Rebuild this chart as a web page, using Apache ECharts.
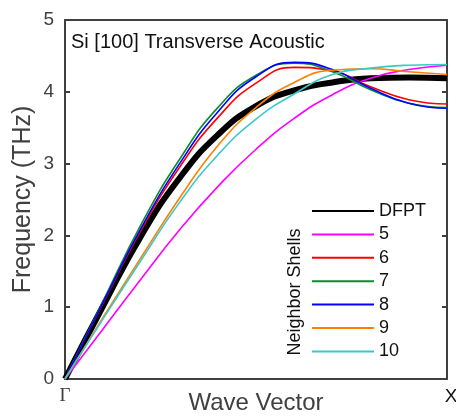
<!DOCTYPE html>
<html>
<head>
<meta charset="utf-8">
<script src="https://cdn.jsdelivr.net/npm/echarts@6/dist/echarts.min.js"></script>
<style>html,body{margin:0;padding:0;background:#fff}#c{width:456px;height:416px}</style>
</head>
<body>
<div id="c"></div>
<script>
const waveVector = [0, 0.1, 0.2, 0.3, 0.4, 0.5, 0.6, 0.7, 0.8, 0.9, 1.0];
const dfpt    = [0, 1.02, 2.00, 2.80, 3.40, 3.80, 4.02, 4.13, 4.19, 4.20, 4.19];
const shell5  = [0, 0.70, 1.40, 2.08, 2.68, 3.20, 3.63, 3.96, 4.19, 4.31, 4.37];
const shell6  = [0, 1.06, 2.08, 2.95, 3.64, 4.12, 4.34, 4.29, 4.07, 3.89, 3.83];
const shell7  = [0, 1.09, 2.16, 3.06, 3.78, 4.23, 4.40, 4.28, 4.03, 3.84, 3.78];
const shell8  = [0, 1.07, 2.11, 3.00, 3.72, 4.21, 4.41, 4.31, 4.05, 3.84, 3.77];
const shell9  = [0, 0.86, 1.70, 2.52, 3.25, 3.78, 4.13, 4.30, 4.32, 4.28, 4.24];
const shell10 = [0, 0.84, 1.66, 2.46, 3.12, 3.62, 3.97, 4.24, 4.33, 4.37, 4.38];
const seriesNames = ['DFPT', '5', '6', '7', '8', '9', '10'];
const seriesColors = ['#000000', '#ff00ff', '#ff0000', '#108a30', '#0000ff', '#ff8000', '#3cc8c8'];
const seriesData = [dfpt, shell5, shell6, shell7, shell8, shell9, shell10];
const xTickLabels = {0: 'Γ', 1: 'X'};

const axisColor = '#404040';
const font = 'Arial, "Liberation Sans", Helvetica, sans-serif';

const chart = echarts.init(document.getElementById('c'), null, {renderer: 'canvas'});
const series = seriesNames.map((n, i) => ({
  name: n,
  type: 'line',
  data: waveVector.map((x, j) => [x, seriesData[i][j]]),
  smooth: true,
  symbol: 'none',
  lineStyle: {color: seriesColors[i], width: i === 0 ? 6 : 1.6},
  itemStyle: {color: seriesColors[i]},
  z: i === 0 ? 2 : 3
}));

chart.setOption({
  animation: false,
  backgroundColor: '#fff',
  title: {
    text: 'Si [100] Transverse Acoustic',
    left: 66, top: 27,
    textStyle: {fontFamily: font, fontSize: 20, fontWeight: 'normal', color: '#111'}
  },
  grid: {left: 65, right: 9, top: 20, bottom: 37, outerBoundsMode: 'none', containLabel: false},
  legend: {
    orient: 'vertical',
    left: 311, top: 202,
    padding: 0,
    itemWidth: 62, itemHeight: 14, itemGap: 5.4,
    data: seriesNames,
    itemStyle: {opacity: 0},
    textStyle: {fontFamily: font, fontSize: 18, lineHeight: 18, color: '#111'}
  },
  graphic: [{
    type: 'text',
    x: 295, y: 292,
    rotation: Math.PI / 2,
    style: {text: 'Neighbor Shells', fontFamily: font, fontSize: 18, fill: '#111', align: 'center', verticalAlign: 'middle'}
  }],
  xAxis: [{
    type: 'value', min: 0, max: 1, interval: 1,
    name: 'Wave Vector', nameLocation: 'middle', nameGap: 12, nameMoveOverlap: false,
    nameTextStyle: {fontFamily: font, fontSize: 24, color: axisColor},
    axisLine: {show: true, onZero: false, lineStyle: {color: axisColor, width: 2}},
    axisTick: {show: false},
    splitLine: {show: false},
    axisLabel: {
      margin: 8,
      formatter: v => v === 0 ? '{g|' + xTickLabels[0] + '}' : '{x|' + xTickLabels[1] + '}',
      rich: {
        g: {fontFamily: '"Liberation Serif", "DejaVu Serif", serif', fontSize: 19, color: axisColor},
        x: {fontFamily: font, fontSize: 19, color: '#111', padding: [0, 0, 0, 8]}
      }
    }
  }, {
    type: 'value', min: 0, max: 1, position: 'top',
    axisLine: {show: true, onZero: false, lineStyle: {color: axisColor, width: 2}},
    axisTick: {show: false}, axisLabel: {show: false}, splitLine: {show: false}
  }],
  yAxis: [{
    type: 'value', min: 0, max: 5, interval: 1,
    name: 'Frequency (THz)', nameLocation: 'middle', nameGap: 29, nameMoveOverlap: false,
    nameTextStyle: {fontFamily: font, fontSize: 25, color: axisColor},
    axisLine: {show: true, onZero: false, lineStyle: {color: axisColor, width: 2}},
    axisTick: {show: true, inside: true, length: 5, lineStyle: {color: axisColor, width: 2}},
    splitLine: {show: false},
    axisLabel: {margin: 11, fontFamily: font, fontSize: 19, color: axisColor}
  }, {
    type: 'value', min: 0, max: 5, interval: 1, position: 'right',
    axisLine: {show: true, onZero: false, lineStyle: {color: axisColor, width: 2}},
    axisTick: {show: true, inside: true, length: 5, lineStyle: {color: axisColor, width: 2}},
    axisLabel: {show: false}, splitLine: {show: false}
  }],
  series: series
});
</script>
</body>
</html>
